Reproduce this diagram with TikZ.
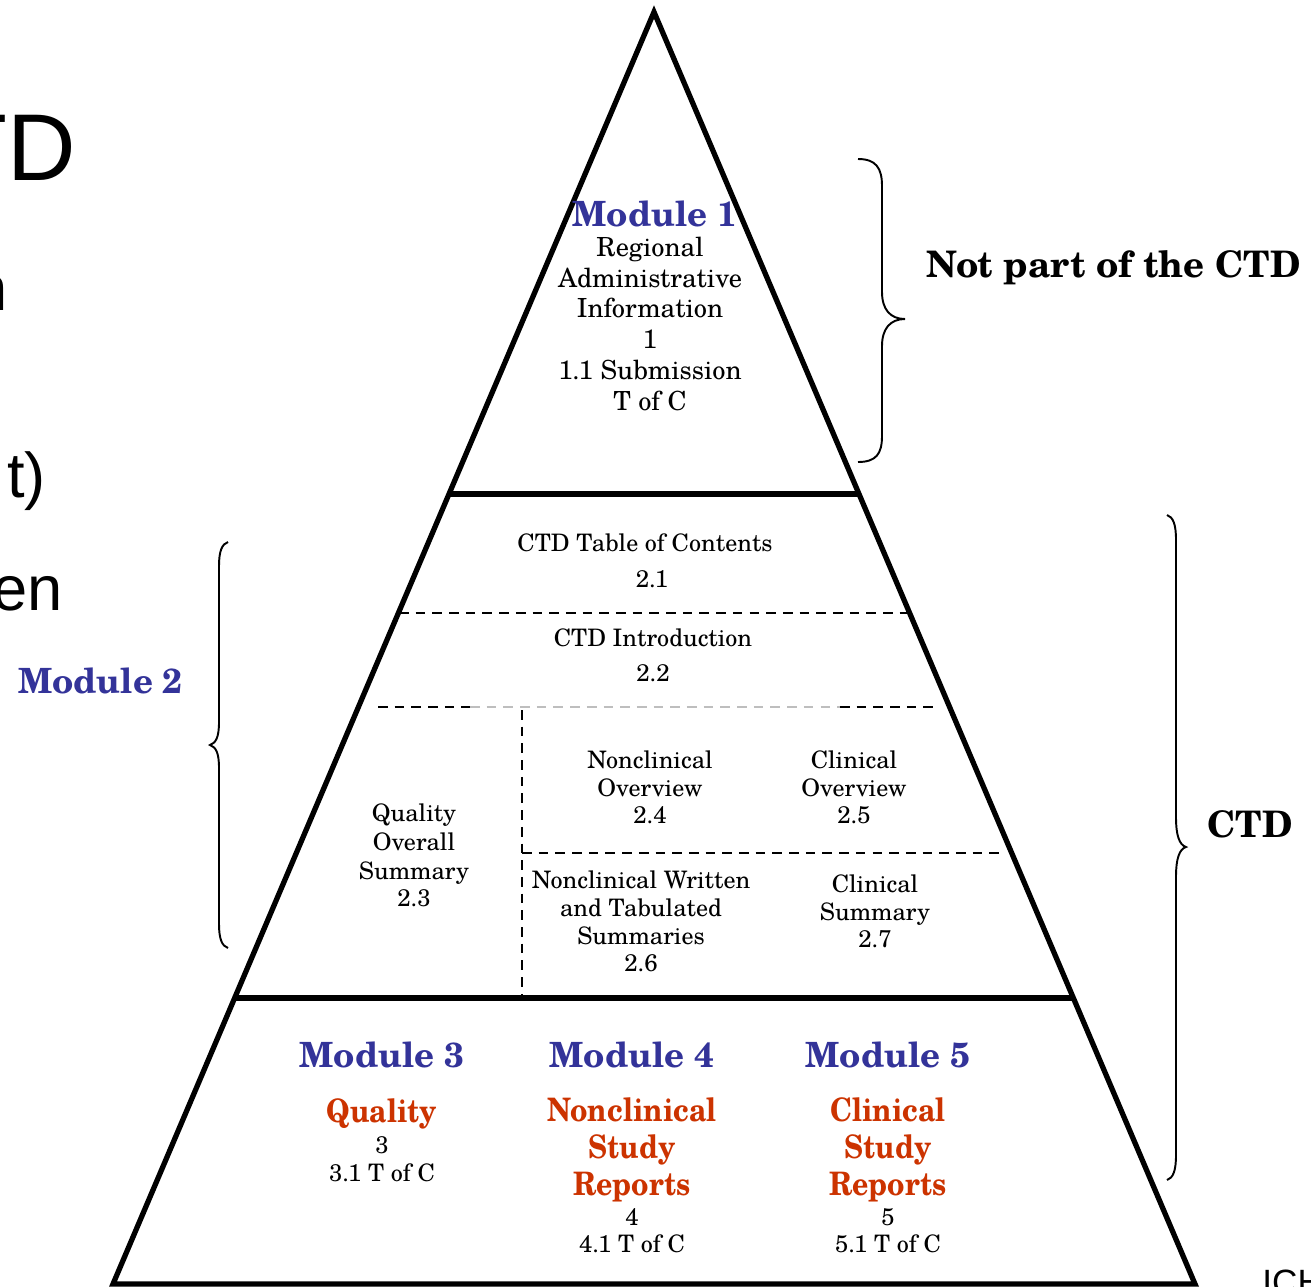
\documentclass[tikz,border=0pt]{standalone}
\usepackage{fontspec}
\usepackage{graphicx}
\setmainfont{TeX Gyre Schola}
\newfontfamily\slidefont{Liberation Sans}
\definecolor{modblue}{RGB}{51,51,153}
\definecolor{modred}{RGB}{204,51,0}
\definecolor{dashgray}{RGB}{190,190,190}
\newcommand{\rs}[1]{\scalebox{0.88}[1]{#1}}
\tikzset{
  pyr/.style={line width=3pt, line join=miter},
  sepline/.style={line width=3.4pt},
  dsh/.style={line width=1.1pt, dash pattern=on 5.5pt off 4pt},
  dshgray/.style={line width=0.8pt, draw=dashgray, dash pattern=on 5.5pt off 4pt},
  brace/.style={line width=1.1pt},
  tx/.style={inner sep=0pt, anchor=base},
  modt/.style={tx, font=\fontsize{19.8}{23}\selectfont\bfseries, text=modblue},
  lbl/.style={inner sep=0pt, anchor=base west, font=\fontsize{20.8}{24}\selectfont\bfseries},
  bodyt/.style={tx, font=\fontsize{15}{18}\selectfont},
  sect/.style={tx, font=\fontsize{13.7}{16}\selectfont},
  redt/.style={tx, font=\fontsize{18.4}{21}\selectfont\bfseries, text=modred},
  slidet/.style={inner sep=0pt, anchor=base east, font=\slidefont\fontsize{36}{40}\selectfont},
}
\begin{document}
\begin{tikzpicture}[x=0.02cm, y=-0.02cm]
\useasboundingbox (0,0) rectangle (1311,1286);
\begin{scope}
\clip (0,0) rectangle (1311,1286);
\fill[white] (0,0) rectangle (1311,1286);

% slide remnants
\node[slidet, font=\slidefont\fontsize{54}{60}\selectfont] (sTD) at (76,180) {TD};
\node[slidet] (sn) at (8,310) {n};
\node[slidet] (st) at (46,497) {t)};
\node[slidet] (sen) at (63,610) {en};
\node[inner sep=0pt, anchor=base west, font=\slidefont\fontsize{20}{24}\selectfont] (sICH) at (1262,1294) {ICH};

% pyramid
\coordinate (apex) at (654,12);
\coordinate (bl) at (113,1284);
\coordinate (br) at (1195,1284);
\draw[pyr] (apex) -- (bl) -- (br) -- cycle;

\coordinate (s1l) at (449,494);  \coordinate (s1r) at (859,494);
\coordinate (s2l) at (234.6,998); \coordinate (s2r) at (1073.4,998);
\draw[sepline] (s1l) -- (s1r);
\draw[sepline] (s2l) -- (s2r);

% dashed divisions
\coordinate (d1l) at (399,613); \coordinate (d1r) at (909,613);
\draw[dsh] (d1l) -- (d1r);
\coordinate (d2l) at (378,707); \coordinate (d2a) at (470,707);
\coordinate (d2b) at (840,707); \coordinate (d2r) at (936,707);
\draw[dsh] (d2l) -- (d2a);
\draw[dshgray] (d2a) -- (d2b);
\draw[dsh] (d2b) -- (d2r);
\coordinate (vt) at (522,710); \coordinate (vb) at (522,998);
\draw[dsh] (vt) -- (vb);
\coordinate (d3l) at (522,853); \coordinate (d3r) at (1004,853);
\draw[dsh] (d3l) -- (d3r);

% braces
\draw[brace] (858,159) .. controls (876,159) and (882,168) .. (882,186) -- (882,292)
  .. controls (882,309) and (890,319) .. (905,319)
  .. controls (890,319) and (882,329) .. (882,346) -- (882,436)
  .. controls (882,454) and (876,462) .. (858,462);
\draw[brace] (1167,515) .. controls (1173,517) and (1176,524) .. (1176,540) -- (1176,818)
  .. controls (1176,834) and (1179,845) .. (1186,847)
  .. controls (1179,849) and (1176,860) .. (1176,876) -- (1176,1155)
  .. controls (1176,1171) and (1173,1178) .. (1167,1180);
\draw[brace] (228,542) .. controls (222,544) and (219,551) .. (219,566) -- (219,722)
  .. controls (219,737) and (216,743) .. (210,745)
  .. controls (216,747) and (219,753) .. (219,768) -- (219,924)
  .. controls (219,939) and (222,946) .. (228,948);

% side labels
\node[lbl] (notctd) at (926,277) {Not part of the CTD};
\node[lbl] (ctdlbl) at (1207,837) {CTD};
\node[lbl, text=modblue, font=\fontsize{19.8}{23}\selectfont\bfseries] (mod2) at (18,693) {Module 2};

% module 1
\node[modt] (m1t) at (655,226) {Module 1};
\node[bodyt] (m1a) at (650,256) {Regional};
\node[bodyt] (m1b) at (650,287) {Administrative};
\node[bodyt] (m1c) at (650,317) {Information};
\node[bodyt] (m1d) at (650,348) {1};
\node[bodyt] (m1e) at (650,379) {1.1 Submission};
\node[bodyt] (m1f) at (650,410) {T of C};

% module 2
\node[sect] (toc) at (645,551) {CTD Table of Contents};
\node[sect] (toc2) at (652,587) {2.1};
\node[sect] (intro) at (653,646) {CTD Introduction};
\node[sect] (intro2) at (653,681) {2.2};

\node[sect] (qosa) at (414,821) {Quality};
\node[sect] (qosb) at (414,850) {Overall};
\node[sect] (qosc) at (414,879) {Summary};
\node[sect] (qosd) at (414,906) {2.3};

\node[sect] (ncoa) at (650,768) {Nonclinical};
\node[sect] (ncob) at (650,796) {Overview};
\node[sect] (ncoc) at (650,823) {2.4};

\node[sect] (cova) at (854,768) {Clinical};
\node[sect] (covb) at (854,796) {Overview};
\node[sect] (covc) at (854,823) {2.5};

\node[sect] (nwsa) at (641,888) {Nonclinical Written};
\node[sect] (nwsb) at (641,916) {and Tabulated};
\node[sect] (nwsc) at (641,944) {Summaries};
\node[sect] (nwsd) at (641,971) {2.6};

\node[sect] (csa) at (875,892) {Clinical};
\node[sect] (csb) at (875,920) {Summary};
\node[sect] (csc) at (875,947) {2.7};

% modules 3-5
\node[modt] (m3t) at (382,1067) {Module 3};
\node[modt] (m4t) at (632,1067) {Module 4};
\node[modt] (m5t) at (888,1067) {Module 5};

\node[redt] (m3a) at (382,1122) {\rs{Quality}};
\node[sect] (m3b) at (382,1153) {3};
\node[sect] (m3c) at (382,1181) {3.1 T of C};

\node[redt] (m4a) at (632,1121) {\rs{Nonclinical}};
\node[redt] (m4b) at (632,1158) {\rs{Study}};
\node[redt] (m4c) at (632,1195) {\rs{Reports}};
\node[sect] (m4d) at (632,1225) {4};
\node[sect] (m4e) at (632,1252) {4.1 T of C};

\node[redt] (m5a) at (888,1121) {\rs{Clinical}};
\node[redt] (m5b) at (888,1158) {\rs{Study}};
\node[redt] (m5c) at (888,1195) {\rs{Reports}};
\node[sect] (m5d) at (888,1225) {5};
\node[sect] (m5e) at (888,1252) {5.1 T of C};
\end{scope}
\end{tikzpicture}
\end{document}
